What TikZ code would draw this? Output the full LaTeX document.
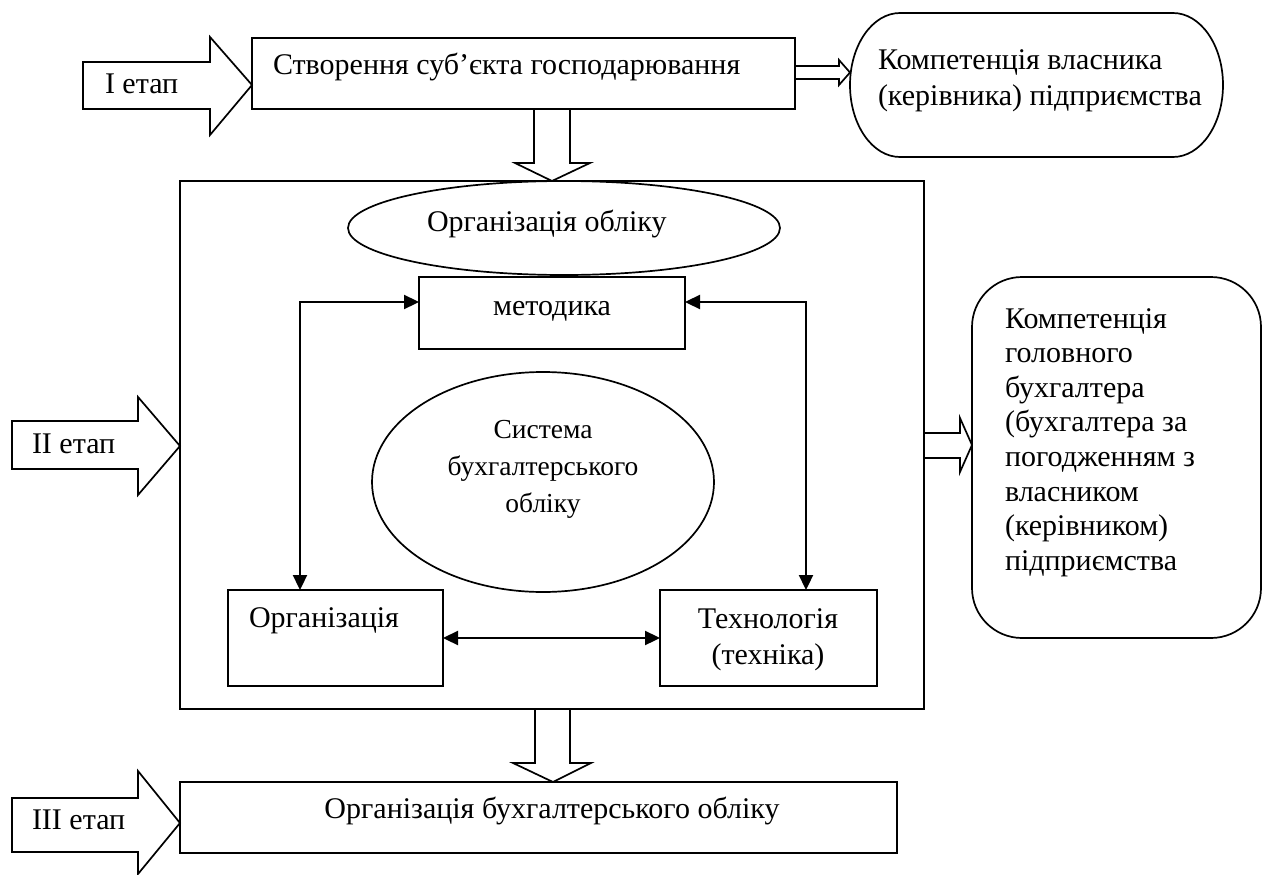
\documentclass[tikz,border=0pt]{standalone}
\usepackage{fontspec}
\setmainfont{Liberation Serif}
\usetikzlibrary{shapes.geometric,arrows.meta,calc}
\newcommand\mlines[2][l]{\begin{tabular}[t]{@{}#1@{}}#2\end{tabular}}
\begin{document}
\begin{tikzpicture}[x=1pt,y=-1pt,
  every node/.style={font=\fontsize{30}{34.6}\selectfont, inner sep=0pt, outer sep=0pt},
  frame/.style={draw, line width=1.7pt, rectangle, anchor=north west},
  oval/.style={draw, line width=1.7pt, ellipse},
  hollow/.style={draw, line width=1.7pt, fill=white, line join=miter},
  link/.style={line width=2.3pt, {Triangle[length=15pt,width=14pt]}-{Triangle[length=15pt,width=14pt]}},
  txt/.style={anchor=base west},
  ctxt/.style={anchor=base},
]
\useasboundingbox (0,0) rectangle (1275,875);

% ---------- stage I ----------
\node[frame, minimum width=543, minimum height=71] (create) at (252,38) {};
\node[txt] (createT) at (273,75) {Створення суб’єкта господарювання};
\draw[hollow] (83,62) -- (210,62) -- (210,37) -- (252,85) -- (210,135) -- (210,109) -- (83,109) -- cycle;
\node[txt] (s1) at (105,94) {I етап};

% owner competence (terminator)
\node[minimum width=373, minimum height=144, anchor=north west] (owner) at (850,13) {};
\draw[line width=1.7pt] ($(owner.north west)+(50,0)$) -- ($(owner.north east)+(-50,0)$)
   arc[start angle=90, end angle=-90, x radius=50pt, y radius=72pt]
   -- ($(owner.south west)+(50,0)$)
   arc[start angle=270, end angle=90, x radius=50pt, y radius=72pt] -- cycle;
\node[txt] (ownerT) at (878,70) {\fontsize{30}{36}\selectfont\mlines{Компетенція власника\\(керівника) підприємства}};
\draw[hollow] (795,66) -- (839,66) -- (839,60) -- (850,72.5) -- (839,85) -- (839,79) -- (795,79) -- cycle;

% down arrow 1
\draw[hollow] (534,109) -- (534,163) -- (515,163) -- (552,181) -- (590,163) -- (570,163) -- (570,109) -- cycle;

% ---------- stage II ----------
\node[frame, minimum width=744, minimum height=528] (big) at (180,181) {};
\draw[hollow] (12,421) -- (138,421) -- (138,397) -- (180,446) -- (138,495) -- (138,469) -- (12,469) -- cycle;
\node[txt] (s2) at (32,453) {II етап};

\node[oval, minimum width=432, minimum height=94] (orgacc) at (564,228) {};
\node[txt] (orgaccT) at (427,231) {Організація обліку};

\node[frame, minimum width=266, minimum height=72] (meth) at (419,277) {};
\node[ctxt] (methT) at (552,315) {методика};

\node[oval, minimum width=342, minimum height=220] (sys) at (543,482) {};
\node (sysT) at (543,468) {\fontsize{27.5}{37}\selectfont\mlines[c]{Система\\бухгалтерського\\обліку}};

\node[frame, minimum width=215, minimum height=96] (org) at (228,590) {};
\node[txt] (orgT) at (249,627) {Організація};

\node[frame, minimum width=217, minimum height=96] (tech) at (660,590) {};
\node[ctxt] (techT) at (768,628) {\fontsize{30}{36}\selectfont\mlines[c]{Технологія\\(техніка)}};

\coordinate (lc) at (300,302);
\coordinate (rc) at (806,302);
\coordinate (hc) at (0,638);
\draw[link] (lc -| meth.west) -| (lc |- org.north);
\draw[link] (rc -| meth.east) -| (rc |- tech.north);
\draw[link] (hc -| org.east) -- (hc -| tech.west);

% chief accountant competence
\draw[hollow] (924,433) -- (960,433) -- (960,418) -- (972,445) -- (960,472) -- (960,458) -- (924,458) -- cycle;
\node[frame, rounded corners=50, minimum width=289, minimum height=361] (chief) at (972,277) {};
\node[txt] (chiefT) at (1005,328) {\mlines{Компетенція\\головного\\бухгалтера\\(бухгалтера за\\погодженням з\\власником\\(керівником)\\підприємства}};

% down arrow 2
\draw[hollow] (535,709) -- (535,763) -- (513,763) -- (553,782) -- (591,763) -- (570,763) -- (570,709) -- cycle;

% ---------- stage III ----------
\node[frame, minimum width=717, minimum height=71] (acc) at (180,782) {};
\node[ctxt] (accT) at (552,818) {Організація бухгалтерського обліку};
\draw[hollow] (12,798) -- (138,798) -- (138,771) -- (180,823) -- (138,874) -- (138,852) -- (12,852) -- cycle;
\node[txt] (s3) at (32,829) {III етап};
\end{tikzpicture}
\end{document}
